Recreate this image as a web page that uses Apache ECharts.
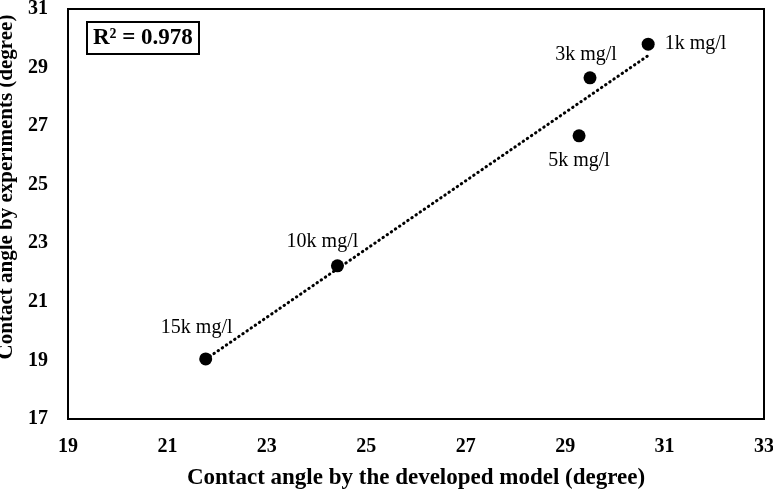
<!DOCTYPE html>
<html><head><meta charset="utf-8">
<script src="https://cdn.jsdelivr.net/npm/echarts@6/dist/echarts.min.js"></script>
<style>html,body{margin:0;padding:0;background:#fff}#c{width:773px;height:491px}</style>
</head><body><div id="c"></div>
<script>
var labels = ['1k mg/l','3k mg/l','5k mg/l','10k mg/l','15k mg/l'];
var modelX = [30.67, 29.5, 29.28, 24.42, 21.77];
var expY = [29.8, 28.65, 26.67, 22.23, 19.05];
var trendX = [21.77, 30.67];
var trendY = [19.04, 29.41];
var xTicks = [19,21,23,25,27,29,31,33];
var yTicks = [17,19,21,23,25,27,29,31];

var labelPlace = [
  {position:'right', distance:10, offset:[0,0]},
  {position:'top', distance:7, offset:[-4,0]},
  {position:'bottom', distance:8, offset:[0,0]},
  {position:'top', distance:5, offset:[-15,-3]},
  {position:'top', distance:5, offset:[-9,-10]}
];

var font = 'Liberation Serif';
var pts = modelX.map(function(x,i){
  var lp = labelPlace[i];
  return {value:[x, expY[i]], label:{show:true, formatter: labels[i], fontFamily: font, fontSize: 20,
    color:'#000', position: lp.position, distance: lp.distance, offset: lp.offset}};
});
var chart = echarts.init(document.getElementById('c'));
chart.setOption({
  animation:false,
  backgroundColor:'#fff',
  title:{text:'R² = 0.978', left:87, top:22, borderColor:'#000', borderWidth:2, padding:[5,6,4,6],
    textStyle:{fontFamily:font, fontWeight:'bold', fontSize:23, color:'#000'}},
  grid:{left:68, right:9, top:9, bottom:72, outerBoundsMode:'none', containLabel:false,
    show:true, borderColor:'#000', borderWidth:2, backgroundColor:'transparent'},
  xAxis:{type:'value', min:xTicks[0], max:xTicks[xTicks.length-1], interval:2,
    name:'Contact angle by the developed model (degree)', nameLocation:'middle', nameGap:48,
    nameTextStyle:{fontFamily:font, fontWeight:'bold', fontSize:23, color:'#000'},
    axisLine:{lineStyle:{color:'#000', width:2}}, axisTick:{show:false}, splitLine:{show:false},
    axisLabel:{fontFamily:font, fontWeight:'bold', fontSize:20, color:'#000', margin:18}},
  yAxis:{type:'value', min:yTicks[0], max:yTicks[yTicks.length-1], interval:2,
    name:'Contact angle by experiments (degree)', nameLocation:'middle', nameGap:50,
    nameTextStyle:{fontFamily:font, fontWeight:'bold', fontSize:21, color:'#000', padding:[0,0,0,54]},
    axisLine:{lineStyle:{color:'#000', width:2}}, axisTick:{show:false}, splitLine:{show:false},
    axisLabel:{fontFamily:font, fontWeight:'bold', fontSize:20, color:'#000', margin:20}},
  series:[
    {type:'line', data: trendX.map(function(x,i){return [x, trendY[i]];}), symbol:'none',
      lineStyle:{color:'#000', width:3, type:[0.5,4.5], cap:'round'}, z:1},
    {type:'scatter', data: pts, symbolSize:13, itemStyle:{color:'#000', opacity:1}, z:2}
  ]
});
</script></body></html>
